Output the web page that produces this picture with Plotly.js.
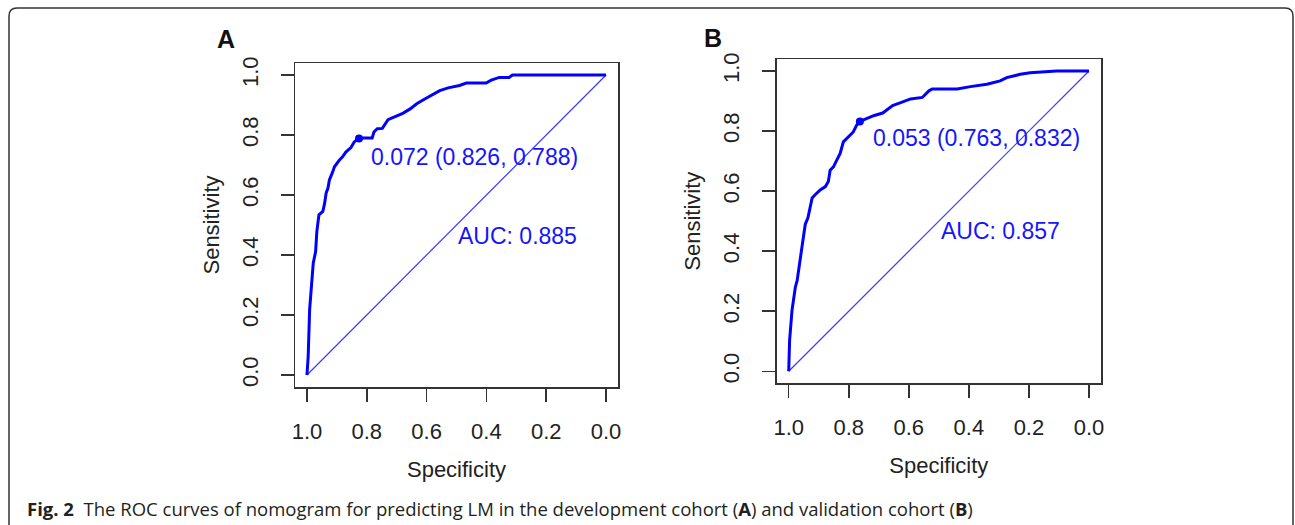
<!DOCTYPE html>
<html>
<head>
<meta charset="utf-8">
<script src="https://cdn.plot.ly/plotly-3.0.1.min.js"></script>
<style>
html,body{margin:0;padding:0;background:#fff;}
#chart{width:1295px;height:525px;}
</style>
</head>
<body>
<div id="chart"></div>
<script>
// Panel A: development cohort ROC (specificity, sensitivity)
var specA = [1.000,0.997,0.996,0.991,0.986,0.983,0.979,0.971,0.967,0.960,0.947,0.941,0.936,0.930,0.925,0.916,0.908,0.892,0.881,0.870,0.853,0.842,0.825,0.782,0.776,0.765,0.748,0.729,0.699,0.678,0.655,0.633,0.606,0.583,0.556,0.528,0.490,0.467,0.401,0.384,0.357,0.324,0.313,0.000];
var sensA = [0.000,0.047,0.060,0.219,0.285,0.324,0.373,0.412,0.478,0.534,0.545,0.572,0.606,0.622,0.650,0.672,0.694,0.716,0.727,0.743,0.758,0.777,0.790,0.790,0.810,0.821,0.822,0.851,0.865,0.873,0.887,0.904,0.920,0.934,0.948,0.957,0.965,0.973,0.973,0.983,0.992,0.992,1.000,1.000];
// Panel B: validation cohort ROC
var specB = [1.000,0.998,0.997,0.989,0.978,0.972,0.967,0.961,0.956,0.950,0.945,0.936,0.928,0.922,0.912,0.895,0.878,0.868,0.862,0.851,0.840,0.829,0.818,0.801,0.785,0.774,0.763,0.743,0.715,0.687,0.654,0.627,0.594,0.555,0.533,0.522,0.439,0.395,0.340,0.296,0.274,0.229,0.196,0.108,0.000];
var sensB = [0.000,0.060,0.104,0.203,0.280,0.302,0.335,0.379,0.423,0.456,0.489,0.511,0.544,0.577,0.588,0.604,0.615,0.632,0.670,0.681,0.703,0.725,0.764,0.780,0.797,0.819,0.832,0.841,0.852,0.860,0.885,0.895,0.907,0.912,0.934,0.940,0.940,0.948,0.956,0.967,0.978,0.989,0.994,1.000,1.000];
// Best thresholds: [threshold, specificity, sensitivity]
var thrA = [0.072, 0.826, 0.788];
var thrB = [0.053, 0.763, 0.832];
var aucA = 0.885;
var aucB = 0.857;
// chance line (specificity, sensitivity)
var diagSpec = [1, 0];
var diagSens = [0, 1];
var tickVals = [0, 0.2, 0.4, 0.6, 0.8, 1.0];
var tickText = ["0.0", "0.2", "0.4", "0.6", "0.8", "1.0"];
var panelLabels = ["A", "B"];
var xTitle = "Specificity";
var yTitle = "Sensitivity";
var caption = "<b>Fig. 2</b>  The ROC curves of nomogram for predicting LM in the development cohort (<b>A</b>) and validation cohort (<b>B</b>)";

var W = 1295, H = 525;
var BLUE = "#0000ff";

function curve(x, y, xa, ya) {
  return {x: x, y: y, xaxis: xa, yaxis: ya, mode: "lines", type: "scatter",
          line: {color: BLUE, width: 3}, hoverinfo: "skip", showlegend: false};
}
function diagonal(xa, ya) {
  return {x: diagSpec, y: diagSens, xaxis: xa, yaxis: ya, mode: "lines", type: "scatter",
          line: {color: "#3a3aff", width: 1.2}, hoverinfo: "skip", showlegend: false};
}
function dot(t, xa, ya) {
  return {x: [t[1]], y: [t[2]], xaxis: xa, yaxis: ya, mode: "markers", type: "scatter",
          marker: {color: BLUE, size: 8}, hoverinfo: "skip", showlegend: false};
}

var data = [
  diagonal("x", "y"), curve(specA, sensA, "x", "y"), dot(thrA, "x", "y"),
  diagonal("x2", "y2"), curve(specB, sensB, "x2", "y2"), dot(thrB, "x2", "y2")
];

var tickFont = {family: "Liberation Sans, Arial, sans-serif", size: 22, color: "#222"};
var titleFont = {family: "Liberation Sans, Arial, sans-serif", size: 22, color: "#222"};

function xaxis(dom, anchor) {
  return {domain: dom, anchor: anchor, range: [1.04, -0.04], tickvals: tickVals, ticktext: tickText,
          ticks: "outside", ticklen: 13, tickwidth: 1.5, tickcolor: "#333",
          showline: true, mirror: true, linecolor: "#333", linewidth: 1.5,
          showgrid: false, zeroline: false, tickfont: tickFont, ticklabelstandoff: 11,
          title: {text: xTitle, font: titleFont, standoff: 18}, fixedrange: true};
}
function yaxis(dom, anchor) {
  return {domain: dom, anchor: anchor, range: [-0.04, 1.04], tickvals: tickVals, ticktext: tickText,
          ticks: "outside", ticklen: 13, tickwidth: 1.5, tickcolor: "#333", tickangle: -90,
          showline: true, mirror: true, linecolor: "#333", linewidth: 1.5,
          showgrid: false, zeroline: false, tickfont: tickFont, ticklabelstandoff: 14,
          title: {text: yTitle, font: titleFont, standoff: 12}, fixedrange: true};
}

function fmt(v) { return v.toFixed(3); }

var annFont = {family: "Liberation Sans, Arial, sans-serif", size: 23, color: "#1414ff"};
var r = 8 / W, rv = 8 / H;
var x0 = 9 / W, x1 = 1293 / W, yTop = 1 - 8 / H;
var borderPath = "M " + x0 + " -0.1 L " + x0 + " " + (yTop - rv) +
  " Q " + x0 + " " + yTop + " " + (x0 + r) + " " + yTop +
  " L " + (x1 - r) + " " + yTop +
  " Q " + x1 + " " + yTop + " " + x1 + " " + (yTop - rv) +
  " L " + x1 + " -0.1";

var layout = {
  width: W, height: H,
  margin: {l: 0, r: 0, t: 0, b: 0},
  paper_bgcolor: "#fff", plot_bgcolor: "#fff",
  showlegend: false,
  xaxis: xaxis([295 / W, 618 / W], "y"),
  yaxis: yaxis([1 - 387 / H, 1 - 63 / H], "x"),
  xaxis2: xaxis([776.7 / W, 1101 / W], "y2"),
  yaxis2: yaxis([1 - 383.3 / H, 1 - 59 / H], "x2"),
  shapes: [{type: "path", xref: "paper", yref: "paper", path: borderPath,
            line: {color: "#333", width: 1.5}}],
  annotations: [
    {xref: "x", yref: "y", x: 0.791, y: 0.726, xanchor: "left", yanchor: "middle", showarrow: false,
     text: fmt(thrA[0]) + " (" + fmt(thrA[1]) + ", " + fmt(thrA[2]) + ")", font: annFont},
    {xref: "x", yref: "y", x: 0.5005, y: 0.462, xanchor: "left", yanchor: "middle", showarrow: false,
     text: "AUC: " + fmt(aucA), font: annFont},
    {xref: "x2", yref: "y2", x: 0.726, y: 0.776, xanchor: "left", yanchor: "middle", showarrow: false,
     text: fmt(thrB[0]) + " (" + fmt(thrB[1]) + ", " + fmt(thrB[2]) + ")", font: annFont},
    {xref: "x2", yref: "y2", x: 0.501, y: 0.466, xanchor: "left", yanchor: "middle", showarrow: false,
     text: "AUC: " + fmt(aucB), font: annFont},
    {xref: "paper", yref: "paper", x: 226 / W, y: 1 - 39 / H, xanchor: "center", yanchor: "middle",
     showarrow: false, text: "<b>" + panelLabels[0] + "</b>",
     font: {family: "Liberation Sans, Arial, sans-serif", size: 25, color: "#111"}},
    {xref: "paper", yref: "paper", x: 713 / W, y: 1 - 38 / H, xanchor: "center", yanchor: "middle",
     showarrow: false, text: "<b>" + panelLabels[1] + "</b>",
     font: {family: "Liberation Sans, Arial, sans-serif", size: 25, color: "#111"}},
    {xref: "paper", yref: "paper", x: 25 / W, y: 1 - 508 / H, xanchor: "left", yanchor: "middle",
     showarrow: false, text: caption,
     font: {family: "Open Sans, Liberation Sans, Arial, sans-serif", size: 18.5, color: "#231f20"}}
  ]
};

Plotly.newPlot("chart", data, layout, {displayModeBar: false, staticPlot: true});
</script>
</body>
</html>
